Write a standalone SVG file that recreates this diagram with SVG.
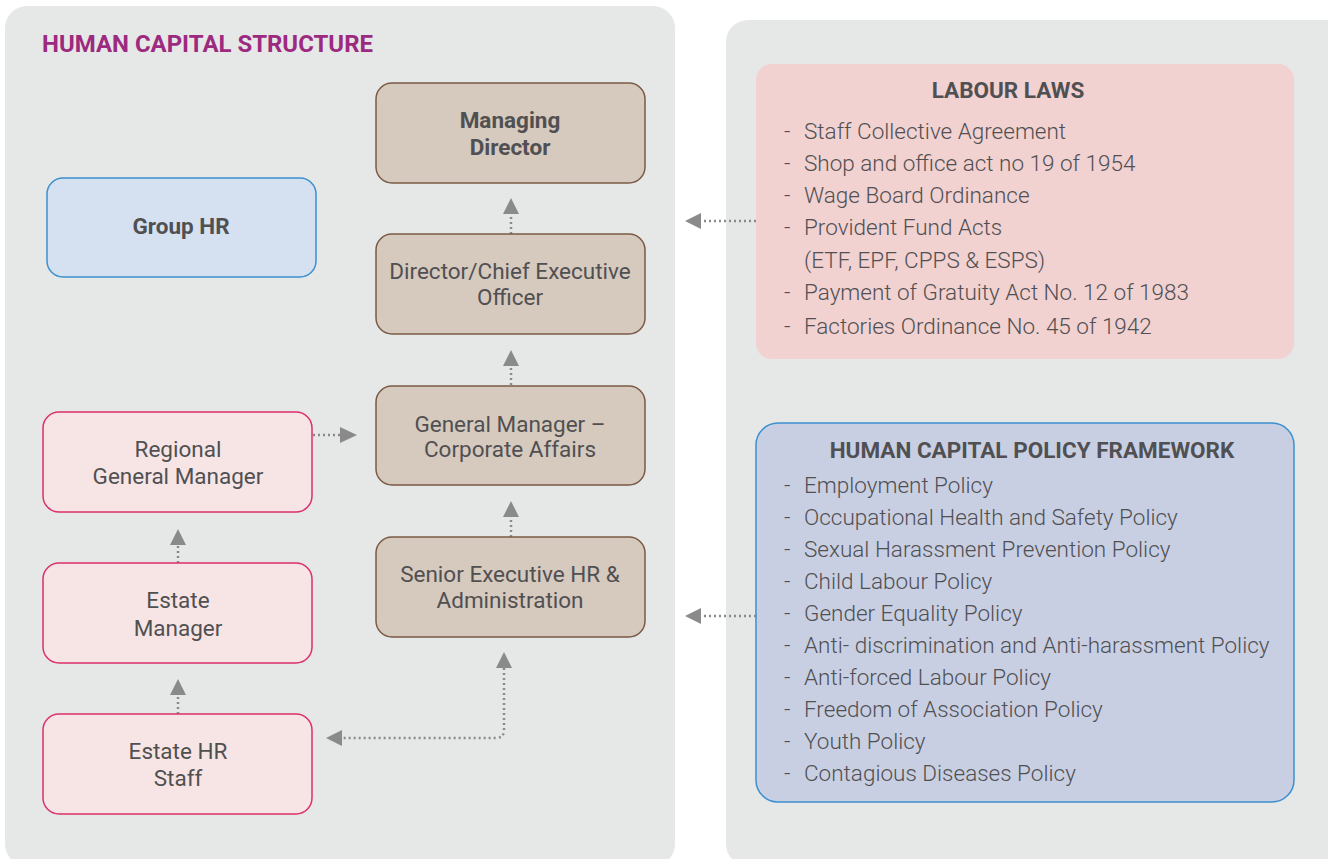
<svg xmlns="http://www.w3.org/2000/svg" width="1328" height="859" viewBox="0 0 1328 859">
<defs>
<style>
.panel{fill:#e6e7e7}
.brown{fill:#d6c9be;stroke:#7b5a45;stroke-width:1.5}
.pink{fill:#f7e5e5;stroke:#dc2f6b;stroke-width:1.5}
.blue{fill:#d5e1f1;stroke:#3b90d0;stroke-width:1.5}
.t{font-family:Roboto,"Liberation Sans",sans-serif;font-size:22.5px;fill:#505052;text-anchor:middle}
.b{font-weight:700}
.li{font-family:Roboto,"Liberation Sans",sans-serif;font-size:22.5px;font-weight:300;fill:#505052}
.conn{fill:none;stroke:#8a8a8a;stroke-width:2.5;stroke-dasharray:2 3}
.ah{fill:#8a8a8a}
</style>
</defs>
<rect class="panel" x="5" y="6" width="670" height="860" rx="22"/>
<rect class="panel" x="726" y="20" width="630" height="846" rx="22"/>
<text x="42" y="52" font-family="Roboto,'Liberation Sans',sans-serif" font-size="23.5" font-weight="700" fill="#9c2a7f" textLength="331" lengthAdjust="spacingAndGlyphs">HUMAN CAPITAL STRUCTURE</text>

<g id="connectors">
<path class="conn" d="M511,234 V214"/>
<path class="ah" d="M503,214 L511,198 L519,214 z"/>
<path class="conn" d="M511,385 V365"/>
<path class="ah" d="M503,366 L511,350 L519,366 z"/>
<path class="conn" d="M511,537 V517"/>
<path class="ah" d="M503,517 L511,501 L519,517 z"/>
<path class="conn" d="M313,435 H341"/>
<path class="ah" d="M340,427 L357,435 L340,443 z"/>
<path class="conn" d="M178,563 V544"/>
<path class="ah" d="M170,545 L178,529 L186,545 z"/>
<path class="conn" d="M178,714 V694"/>
<path class="ah" d="M170,695 L178,679 L186,695 z"/>
<path class="conn" d="M504,668 V730 Q504,738 496,738 H342"/>
<path class="ah" d="M496,668 L504,652 L512,668 z"/>
<path class="ah" d="M342,730 L326,738 L342,746 z"/>
<path class="conn" d="M756,221 H701"/>
<path class="ah" d="M701,213 L685,221 L701,229 z"/>
<path class="conn" d="M756,616 H701"/>
<path class="ah" d="M701,608 L685,616 L701,624 z"/>
</g>

<g id="managing-director">
<rect class="brown" x="376" y="83" width="269" height="100" rx="16"/>
<text class="t b" x="510" y="128">Managing</text>
<text class="t b" x="510" y="155">Director</text>
</g>
<g id="group-hr">
<rect class="blue" x="47" y="178" width="269" height="99" rx="16"/>
<text class="t b" x="181" y="234">Group HR</text>
</g>
<g id="ceo">
<rect class="brown" x="376" y="234" width="269" height="100" rx="16"/>
<text class="t" x="510" y="279">Director/Chief Executive</text>
<text class="t" x="510" y="305">Officer</text>
</g>
<g id="gm-corporate">
<rect class="brown" x="376" y="386" width="269" height="99" rx="16"/>
<text class="t" x="510" y="432">General Manager –</text>
<text class="t" x="510" y="457">Corporate Affairs</text>
</g>
<g id="senior-exec">
<rect class="brown" x="376" y="537" width="269" height="100" rx="16"/>
<text class="t" x="510" y="582">Senior Executive HR &amp;</text>
<text class="t" x="510" y="608">Administration</text>
</g>
<g id="regional-gm">
<rect class="pink" x="43" y="412" width="269" height="100" rx="16"/>
<text class="t" x="178" y="457">Regional</text>
<text class="t" x="178" y="484">General Manager</text>
</g>
<g id="estate-manager">
<rect class="pink" x="43" y="563" width="269" height="100" rx="16"/>
<text class="t" x="178" y="608">Estate</text>
<text class="t" x="178" y="636">Manager</text>
</g>
<g id="estate-hr-staff">
<rect class="pink" x="43" y="714" width="269" height="100" rx="16"/>
<text class="t" x="178" y="759">Estate HR</text>
<text class="t" x="178" y="786">Staff</text>
</g>

<g id="labour-laws">
<rect x="756" y="64" width="538" height="295" rx="16" fill="#f2d1d1"/>
<text class="t b" x="1008" y="98">LABOUR LAWS</text>
<g class="li">
<text x="784" y="139">-</text><text x="804" y="139">Staff Collective Agreement</text>
<text x="784" y="171">-</text><text x="804" y="171">Shop and office act no 19 of 1954</text>
<text x="784" y="203">-</text><text x="804" y="203">Wage Board Ordinance</text>
<text x="784" y="235">-</text><text x="804" y="235">Provident Fund Acts</text>
<text x="804" y="268">(ETF, EPF, CPPS &amp; ESPS)</text>
<text x="784" y="300">-</text><text x="804" y="300">Payment of Gratuity Act No. 12 of 1983</text>
<text x="784" y="334">-</text><text x="804" y="334">Factories Ordinance No. 45 of 1942</text>
</g>
</g>

<g id="policy-framework">
<rect x="756" y="423" width="538" height="379" rx="22" fill="#c9cfe3" stroke="#3b90d0" stroke-width="1.5"/>
<text class="t b" x="1032" y="458">HUMAN CAPITAL POLICY FRAMEWORK</text>
<g class="li">
<text x="784" y="493">-</text><text x="804" y="493">Employment Policy</text>
<text x="784" y="525">-</text><text x="804" y="525">Occupational Health and Safety Policy</text>
<text x="784" y="557">-</text><text x="804" y="557">Sexual Harassment Prevention Policy</text>
<text x="784" y="589">-</text><text x="804" y="589">Child Labour Policy</text>
<text x="784" y="621">-</text><text x="804" y="621">Gender Equality Policy</text>
<text x="784" y="653">-</text><text x="804" y="653">Anti- discrimination and Anti-harassment Policy</text>
<text x="784" y="685">-</text><text x="804" y="685">Anti-forced Labour Policy</text>
<text x="784" y="717">-</text><text x="804" y="717">Freedom of Association Policy</text>
<text x="784" y="749">-</text><text x="804" y="749">Youth Policy</text>
<text x="784" y="781">-</text><text x="804" y="781">Contagious Diseases Policy</text>
</g>
</g>
</svg>
